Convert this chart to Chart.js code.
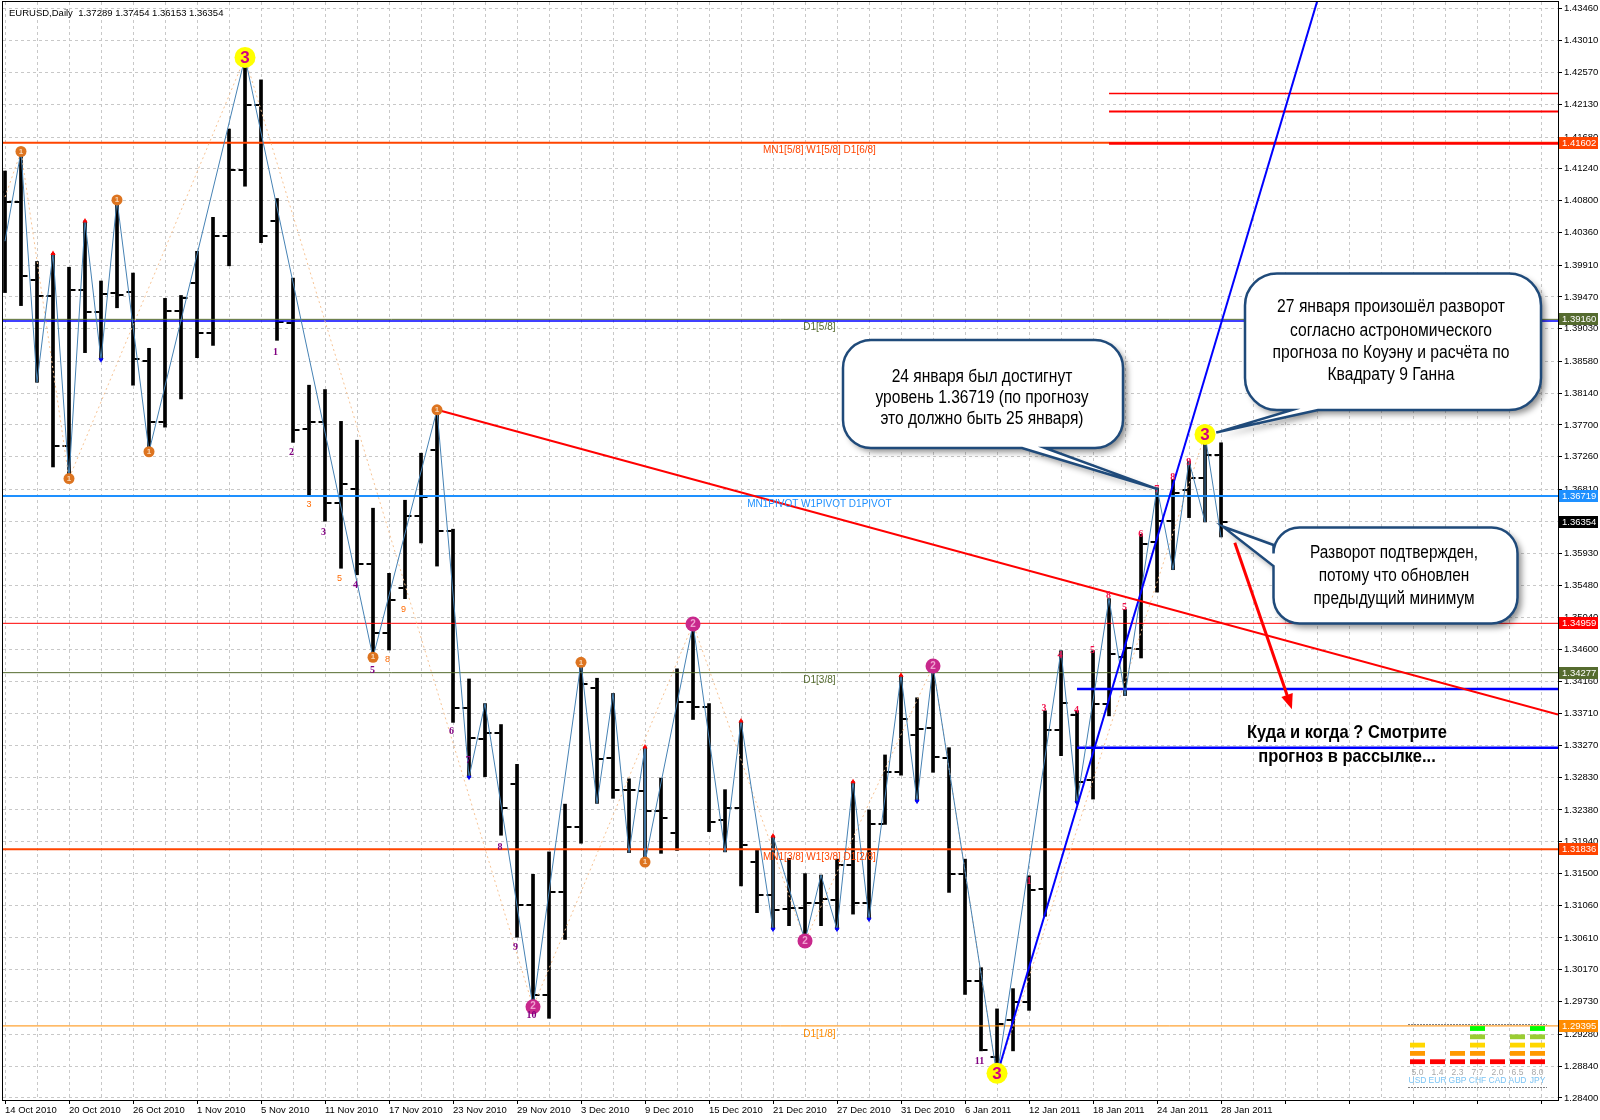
<!DOCTYPE html>
<html>
<head>
<meta charset="utf-8">
<title>EURUSD,Daily</title>
<script src="https://cdn.jsdelivr.net/npm/chart.js@4.4.1/dist/chart.umd.min.js"></script>
<style>
html, body { margin: 0; padding: 0; background: #fff; }
canvas { display: block; }
</style>
</head>
<body>
<canvas id="grafico" width="1600" height="1120"></canvas>
<script>
// dates shown on the time axis, one every 4 bars
var dateLabels = ["14 Oct 2010", "20 Oct 2010", "26 Oct 2010", "1 Nov 2010", "5 Nov 2010", "11 Nov 2010",
    "17 Nov 2010", "23 Nov 2010", "29 Nov 2010", "3 Dec 2010", "9 Dec 2010", "15 Dec 2010", "21 Dec 2010",
    "27 Dec 2010", "31 Dec 2010", "6 Jan 2011", "12 Jan 2011", "18 Jan 2011", "24 Jan 2011", "28 Jan 2011"];

// daily bars, 14 Oct 2010 .. 28 Jan 2011
var opens = [1.4092, 1.4078, 1.3970, 1.3948, 1.3741, 1.3957, 1.3926, 1.3952, 1.3954, 1.3859,
    1.3774, 1.3928, 1.3966, 1.3897, 1.4031, 1.4123, 1.4212, 1.4052, 1.3911, 1.3764,
    1.3774, 1.3662, 1.3682, 1.3578, 1.3483, 1.3545, 1.3644, 1.3735, 1.3623, 1.3379,
    1.3336, 1.3345, 1.3274, 1.3106, 1.2982, 1.3124, 1.3214, 1.3407, 1.3310, 1.3265,
    1.3264, 1.3237, 1.3206, 1.3387, 1.3380, 1.3224, 1.3241, 1.3166, 1.3120, 1.3101,
    1.3103, 1.3109, 1.3114, 1.3162, 1.3110, 1.3218, 1.3291, 1.3342, 1.3351, 1.3310,
    1.3150, 1.3002, 1.2897, 1.2948, 1.2972, 1.3129, 1.3349, 1.3369, 1.3279, 1.3384,
    1.3450, 1.3460, 1.3608, 1.3637, 1.3680, 1.3697, 1.37289];
var highs = [1.4121, 1.4148, 1.3996, 1.4007, 1.3988, 1.4052, 1.3969, 1.4081, 1.3980, 1.3876,
    1.3945, 1.3949, 1.4010, 1.4057, 1.4179, 1.4278, 1.4247, 1.4083, 1.3973, 1.3825,
    1.3819, 1.3775, 1.3749, 1.3655, 1.3565, 1.3666, 1.3731, 1.3791, 1.3626, 1.3419,
    1.3385, 1.3356, 1.3301, 1.3149, 1.3180, 1.3246, 1.3442, 1.3420, 1.3399, 1.3281,
    1.3325, 1.3282, 1.3433, 1.3495, 1.3385, 1.3266, 1.3361, 1.3182, 1.3202, 1.3171,
    1.3150, 1.3148, 1.3170, 1.3277, 1.3238, 1.3314, 1.3424, 1.3393, 1.3437, 1.3324,
    1.3170, 1.3020, 1.2963, 1.2991, 1.3147, 1.3375, 1.3458, 1.3375, 1.3458, 1.3530,
    1.3515, 1.3619, 1.3683, 1.3695, 1.3720, 1.3757, 1.37454];
var lows = [1.3953, 1.3935, 1.3829, 1.3712, 1.3696, 1.3870, 1.3860, 1.3932, 1.3825, 1.3733,
    1.3767, 1.3806, 1.3863, 1.3880, 1.3990, 1.4100, 1.4022, 1.3887, 1.3746, 1.3671,
    1.3637, 1.3572, 1.3563, 1.3449, 1.3459, 1.3530, 1.3607, 1.3575, 1.3359, 1.3283,
    1.3284, 1.3203, 1.3062, 1.2966, 1.2950, 1.3059, 1.3192, 1.3247, 1.3254, 1.3179,
    1.3166, 1.3178, 1.3182, 1.3363, 1.3208, 1.3180, 1.3133, 1.3096, 1.3073, 1.3078,
    1.3057, 1.3078, 1.3073, 1.3094, 1.3087, 1.3218, 1.3286, 1.3250, 1.3290, 1.3124,
    1.2983, 1.2905, 1.2870, 1.2905, 1.2961, 1.3091, 1.3313, 1.3248, 1.3253, 1.3368,
    1.3396, 1.3448, 1.3539, 1.3570, 1.3642, 1.3636, 1.36153];
var closes = [1.4078, 1.3976, 1.3948, 1.3741, 1.3957, 1.3926, 1.3951, 1.3950, 1.3861, 1.3774,
    1.3927, 1.3945, 1.3897, 1.4031, 1.4123, 1.4212, 1.4031, 1.3913, 1.3763, 1.3774,
    1.3662, 1.3688, 1.3578, 1.3483, 1.3528, 1.3644, 1.3670, 1.3623, 1.3379, 1.3337,
    1.3345, 1.3240, 1.3106, 1.2982, 1.3124, 1.3214, 1.3412, 1.3309, 1.3266, 1.3265,
    1.3237, 1.3227, 1.3387, 1.3380, 1.3222, 1.3241, 1.3189, 1.3121, 1.3100, 1.3103,
    1.3109, 1.3115, 1.3162, 1.3110, 1.3218, 1.3290, 1.3363, 1.3350, 1.3311, 1.3150,
    1.3002, 1.2906, 1.2942, 1.2972, 1.3127, 1.3349, 1.3386, 1.3277, 1.3384, 1.3454,
    1.3462, 1.3605, 1.3637, 1.3676, 1.3697, 1.3729, 1.36354];

// price scale labels
var yTickLabels = [1.43460, 1.43010, 1.42570, 1.42130, 1.41680, 1.41240, 1.40800, 1.40360, 1.39910,
    1.39470, 1.39030, 1.38580, 1.38140, 1.37700, 1.37260, 1.36810, 1.36370, 1.35930, 1.35480,
    1.35040, 1.34600, 1.34160, 1.33710, 1.33270, 1.32830, 1.32380, 1.31940, 1.31500, 1.31060,
    1.30610, 1.30170, 1.29730, 1.29280, 1.28840, 1.28400];

// zigzag (blue thin) and big swings (dotted)
var zigIdx = [0, 1, 2, 3, 4, 5, 6, 7, 9, 15, 23, 27, 29, 30, 33, 36, 37, 38, 39, 40, 40, 43, 45, 46, 48, 48,
    50, 51, 52, 53, 54, 56, 57, 58, 62, 66, 67, 69, 70, 72, 73, 74, 75, 75, 76];
var zigVal = [1.4024, 1.4148, 1.3829, 1.4007, 1.3696, 1.4052, 1.3860, 1.4081, 1.3733, 1.4278, 1.3449,
    1.3791, 1.3283, 1.3385, 1.2966, 1.3442, 1.3247, 1.3399, 1.3179, 1.3325, 1.3166, 1.3495, 1.3180,
    1.3361, 1.3073, 1.3202, 1.3057, 1.3148, 1.3073, 1.3277, 1.3087, 1.3424, 1.3250, 1.3437, 1.2870,
    1.3458, 1.3248, 1.3530, 1.3396, 1.3683, 1.3570, 1.3720, 1.3636, 1.3757, 1.3615];
var swingIdx = [0, 1, 4, 15, 33, 43, 50, 58, 62, 75];
var swingVal = [1.4085, 1.4148, 1.3696, 1.4278, 1.2966, 1.3495, 1.3057, 1.3437, 1.2870, 1.3757];

// horizontal levels
var levelVals = [1.41602, 1.39160, 1.39137, 1.36719, 1.34959, 1.34277, 1.31836, 1.29395];
var levelNames = ["MN1[5/8] W1[5/8] D1[6/8]", "D1[5/8]", "", "MN1PIVOT W1PIVOT D1PIVOT", "", "D1[3/8]",
    "MN1[3/8] W1[3/8] D1[2/8]", "D1[1/8]"];
var priceTags = [1.41602, 1.39160, 1.36719, 1.36354, 1.34959, 1.34277, 1.31836, 1.29395];
var redLevels = [1.42280, 1.42031, 1.41590];
var redLevelsFrom = 69;
var blueLevels = [1.34050, 1.33240];
var blueLevelsFrom = 67;

// trend lines [bar, price]
var redTrend = [[27, 1.3791], [97.06, 1.3370]];
var gannLine = [[62, 1.2872], [82, 1.4355]];
var forecastArrow = [[76.86, 1.36071], [80.43, 1.33772]];

// markers
var yellowIdx = [15, 62, 75];
var yellowVal = [1.4278, 1.2874, 1.3757];
var orangeIdx = [1, 4, 7, 9, 23, 27, 36, 40];
var orangeVal = [1.4148, 1.3696, 1.4081, 1.3733, 1.3449, 1.3791, 1.3442, 1.3166];
var magentaIdx = [33, 43, 50, 58];
var magentaVal = [1.2966, 1.3495, 1.3057, 1.3437];
var upIdx = [3, 5, 40, 46, 48, 53, 56];
var downIdx = [6, 29, 48, 52, 54, 57, 67];

// wave counts
var purpleText = ["1", "2", "3", "4", "5", "6", "7", "8", "9", "10", "11"];
var purpleIdx = [16.9, 17.9, 19.9, 21.9, 22.97, 27.9, 28.96, 30.94, 31.9, 32.9, 60.9];
var purpleVal = [1.38709, 1.37327, 1.36211, 1.35479, 1.34308, 1.33463, 1.33068, 1.31868, 1.30486, 1.29542, 1.28908];
var orangeText = ["3", "5", "9", "8"];
var orangeTxtIdx = [19.0, 20.9, 24.9, 23.9];
var orangeTxtVal = [1.36605, 1.35577, 1.35143, 1.34463];
var pinkText = ["1", "3", "4", "4", "5", "8", "5", "6", "7", "8", "9"];
var pinkIdx = [64.0, 64.94, 65.94, 66.96, 67.96, 68.96, 69.96, 70.98, 71.98, 72.98, 73.98];
var pinkVal = [1.31389, 1.33785, 1.34522, 1.33762, 1.34591, 1.35350, 1.35180, 1.36194, 1.36811, 1.36977, 1.37179];

// currency strength block
var currencies = ["USD", "EUR", "GBP", "CHF", "CAD", "AUD", "JPY"];
var strength = [5.0, 1.4, 2.3, 7.7, 2.0, 6.5, 8.0];
var strengthBlocks = [3, 1, 2, 5, 1, 4, 5];

// texts
var header = "EURUSD,Daily  1.37289 1.37454 1.36153 1.36354";
var note1 = ["24 января был достигнут", "уровень 1.36719 (по прогнозу", "это должно быть 25 января)"];
var note2 = ["27 января произошёл разворот", "согласно астрономического", "прогноза по Коуэну и расчёта по", "Квадрату 9 Ганна"];
var note3 = ["Разворот подтвержден,", "потому что обновлен", "предыдущий минимум"];
var note4 = ["Куда и когда ? Смотрите", "прогноз в рассылке..."];
var note1Tip = [72.08, 1.36811];
var note2Tip = [75.7, 1.37595];
var note3Tip = [76.1, 1.36297];

var X_MIN = -0.125, X_MAX = 97.06;
var Y_MIN = 1.28371, Y_MAX = 1.43546;
var FONT = "'Liberation Sans', Arial, sans-serif";

function pts(idx, val) {
    var r = [];
    for (var i = 0; i < idx.length; i++) {
        r.push({x: idx[i], y: val[i]});
    }
    return r;
}

function lineSet(data, color, width, order, dash) {
    return {
        type: "line", data: data, borderColor: color, borderWidth: width,
        pointRadius: 0, fill: false, tension: 0, order: order, borderDash: dash || []
    };
}

var barras = [];
for (var i = 0; i < highs.length; i++) {
    barras.push({x: i, y: [lows[i], highs[i]]});
}

var datasets = [{
    type: "bar", data: barras, backgroundColor: "#000", borderWidth: 0,
    barThickness: 3, order: 20
}];

var levelColors = ["#ff4500", "#556b2f", "#0000ff", "#1e90ff", "#ff0000", "#556b2f", "#ff4500", "#ff8c00"];
var levelWidths = [2, 1, 1.5, 2, 1, 1, 2, 1];
for (var i = 0; i < levelVals.length; i++) {
    datasets.push(lineSet([{x: X_MIN, y: levelVals[i]}, {x: X_MAX, y: levelVals[i]}], levelColors[i], levelWidths[i], 12));
}
var redWidths = [1.5, 2, 2.5];
for (var i = 0; i < redLevels.length; i++) {
    datasets.push(lineSet([{x: redLevelsFrom, y: redLevels[i]}, {x: X_MAX, y: redLevels[i]}], "#ff0000", redWidths[i], 11));
}
for (var i = 0; i < blueLevels.length; i++) {
    datasets.push(lineSet([{x: blueLevelsFrom, y: blueLevels[i]}, {x: X_MAX, y: blueLevels[i]}], "#0000ff", 2.5, 11));
}
datasets.push(lineSet(pts(swingIdx, swingVal), "#f6c394", 1, 9, [2, 3]));
datasets.push(lineSet(pts(zigIdx, zigVal), "#4682b4", 1, 8));
datasets.push(lineSet(redTrend.map(function (p) { return {x: p[0], y: p[1]}; }), "#ff0000", 2, 7));
datasets.push(lineSet(gannLine.map(function (p) { return {x: p[0], y: p[1]}; }), "#0000ff", 2, 7));

function scatterSet(data, color, radius, style, rot) {
    return {
        type: "scatter", data: data, backgroundColor: color, borderColor: color, borderWidth: 0,
        pointRadius: radius, pointStyle: style || "circle", rotation: rot || 0, order: 2
    };
}
datasets.push(scatterSet(pts(upIdx, upIdx.map(function (k) { return highs[k]; })), "#ff0000", 3, "triangle", 0));
datasets.push(scatterSet(pts(downIdx, downIdx.map(function (k) { return lows[k]; })), "#0000ff", 3, "triangle", 180));
datasets.push(scatterSet(pts(orangeIdx, orangeVal), "#dd7420", 5.5));
datasets.push(scatterSet(pts(magentaIdx, magentaVal), "#c8288c", 7.5));
datasets.push(scatterSet(pts(yellowIdx, yellowVal), "#ffff00", 10.5));

// open / close ticks of every bar
var ohlcTicks = {
    id: "ohlcTicks",
    afterDatasetDraw: function (chart, args) {
        if (args.index !== 0) return;
        var ctx = chart.ctx, x = chart.scales.x, y = chart.scales.y, a = chart.chartArea;
        ctx.save();
        ctx.beginPath();
        ctx.rect(a.left, a.top, a.right - a.left, a.bottom - a.top);
        ctx.clip();
        ctx.fillStyle = "#000";
        for (var i = 0; i < opens.length; i++) {
            var px = x.getPixelForValue(i);
            var po = Math.round(y.getPixelForValue(opens[i]));
            var pc = Math.round(y.getPixelForValue(closes[i]));
            ctx.fillRect(px - 6.5, po - 1, 5, 2);
            ctx.fillRect(px + 1.5, pc - 1, 5, 2);
        }
        ctx.restore();
    }
};

function callout(ctx, b, tip, side, a1, a2) {
    var x = b.x, y = b.y, w = b.w, h = b.h, r = b.r;
    ctx.beginPath();
    ctx.moveTo(x + r, y);
    ctx.lineTo(x + w - r, y);
    ctx.arcTo(x + w, y, x + w, y + r, r);
    ctx.lineTo(x + w, y + h - r);
    ctx.arcTo(x + w, y + h, x + w - r, y + h, r);
    if (side === "bottom") {
        ctx.lineTo(a2, y + h);
        ctx.lineTo(tip.x, tip.y);
        ctx.lineTo(a1, y + h);
    }
    ctx.lineTo(x + r, y + h);
    ctx.arcTo(x, y + h, x, y + h - r, r);
    if (side === "left") {
        ctx.lineTo(x, a2);
        ctx.lineTo(tip.x, tip.y);
        ctx.lineTo(x, a1);
    }
    ctx.lineTo(x, y + r);
    ctx.arcTo(x, y, x + r, y, r);
    ctx.closePath();
    ctx.save();
    ctx.shadowColor = "rgba(0,0,0,0.45)";
    ctx.shadowBlur = 6;
    ctx.shadowOffsetX = 4;
    ctx.shadowOffsetY = 4;
    ctx.fillStyle = "#ffffff";
    ctx.fill();
    ctx.restore();
    ctx.lineWidth = 2.5;
    ctx.strokeStyle = "#1f4a7a";
    ctx.stroke();
}

// narrow lettering: normal font squeezed so the widest line has the reference width
function noteText(ctx, lines, cx, ys, size, weight, widest, target) {
    ctx.save();
    ctx.font = weight + " " + size + "px " + FONT;
    var k = target / ctx.measureText(lines[widest]).width;
    ctx.fillStyle = "#000";
    ctx.textAlign = "center";
    ctx.textBaseline = "middle";
    ctx.translate(cx, 0);
    ctx.scale(k, 1);
    for (var i = 0; i < lines.length; i++) {
        ctx.fillText(lines[i], 0, ys[i]);
    }
    ctx.restore();
}

var overlay = {
    id: "overlay",
    afterDatasetsDraw: function (chart) {
        var ctx = chart.ctx, x = chart.scales.x, y = chart.scales.y;
        ctx.save();
        // level captions
        ctx.font = "10px " + FONT;
        ctx.textAlign = "center";
        ctx.textBaseline = "middle";
        for (var i = 0; i < levelVals.length; i++) {
            if (!levelNames[i]) continue;
            ctx.fillStyle = levelColors[i];
            ctx.fillText(levelNames[i], x.getPixelForValue(50.9), y.getPixelForValue(levelVals[i]) + 8);
        }
        // wave counts
        ctx.font = "bold 10px 'Liberation Serif', serif";
        ctx.fillStyle = "#800080";
        for (var i = 0; i < purpleText.length; i++) {
            ctx.fillText(purpleText[i], x.getPixelForValue(purpleIdx[i]), y.getPixelForValue(purpleVal[i]));
        }
        ctx.font = "9px " + FONT;
        ctx.fillStyle = "#ff6a00";
        for (var i = 0; i < orangeText.length; i++) {
            ctx.fillText(orangeText[i], x.getPixelForValue(orangeTxtIdx[i]), y.getPixelForValue(orangeTxtVal[i]));
        }
        ctx.font = "bold 10px 'Liberation Serif', serif";
        ctx.fillStyle = "#f0104a";
        for (var i = 0; i < pinkText.length; i++) {
            ctx.fillText(pinkText[i], x.getPixelForValue(pinkIdx[i]), y.getPixelForValue(pinkVal[i]));
        }
        // digits inside the circles
        ctx.font = "bold 17px " + FONT;
        ctx.fillStyle = "#d4007f";
        for (var i = 0; i < yellowIdx.length; i++) {
            ctx.fillText("3", x.getPixelForValue(yellowIdx[i]), y.getPixelForValue(yellowVal[i]) + 1);
        }
        ctx.font = "bold 8px " + FONT;
        ctx.fillStyle = "#f8d8b8";
        for (var i = 0; i < orangeIdx.length; i++) {
            ctx.fillText("1", x.getPixelForValue(orangeIdx[i]), y.getPixelForValue(orangeVal[i]));
        }
        ctx.font = "bold 10px " + FONT;
        ctx.fillStyle = "#f0a0d0";
        for (var i = 0; i < magentaIdx.length; i++) {
            ctx.fillText("2", x.getPixelForValue(magentaIdx[i]), y.getPixelForValue(magentaVal[i]));
        }
        // forecast arrow
        var ax = x.getPixelForValue(forecastArrow[0][0]), ay = y.getPixelForValue(forecastArrow[0][1]);
        var bx = x.getPixelForValue(forecastArrow[1][0]), by = y.getPixelForValue(forecastArrow[1][1]);
        var ang = Math.atan2(by - ay, bx - ax);
        ctx.strokeStyle = "#ff0000";
        ctx.fillStyle = "#ff0000";
        ctx.lineWidth = 3;
        ctx.beginPath();
        ctx.moveTo(ax, ay);
        ctx.lineTo(bx - 10 * Math.cos(ang), by - 10 * Math.sin(ang));
        ctx.stroke();
        ctx.beginPath();
        ctx.moveTo(bx, by);
        ctx.lineTo(bx - 15 * Math.cos(ang) + 6 * Math.sin(ang), by - 15 * Math.sin(ang) - 6 * Math.cos(ang));
        ctx.lineTo(bx - 15 * Math.cos(ang) - 6 * Math.sin(ang), by - 15 * Math.sin(ang) + 6 * Math.cos(ang));
        ctx.closePath();
        ctx.fill();
        ctx.restore();
    },
    afterDraw: function (chart) {
        var ctx = chart.ctx, x = chart.scales.x, y = chart.scales.y, a = chart.chartArea;
        ctx.save();
        // frame
        ctx.strokeStyle = "#000";
        ctx.lineWidth = 1;
        ctx.strokeRect(Math.round(a.left) - 0.5, Math.round(a.top) - 0.5, Math.round(a.right - a.left) + 1, Math.round(a.bottom - a.top) + 1);

        // header
        ctx.font = "9.5px " + FONT;
        ctx.fillStyle = "#000";
        ctx.textAlign = "left";
        ctx.textBaseline = "middle";
        ctx.fillText(header, 9, 13);

        // price tags on the scale
        var tagColors = ["#ff4500", "#556b2f", "#1e90ff", "#000000", "#ff0000", "#556b2f", "#ff4500", "#ff8c00"];
        ctx.font = "9.5px " + FONT;
        for (var i = 0; i < priceTags.length; i++) {
            var py = Math.round(y.getPixelForValue(priceTags[i]));
            ctx.fillStyle = tagColors[i];
            ctx.fillRect(a.right + 1, py - 6, 39, 12);
            ctx.fillStyle = "#fff";
            ctx.fillText(priceTags[i].toFixed(5), a.right + 4, py + 0.5);
        }

        // currency strength block
        var rowColors = ["#ff0000", "#ff9900", "#ffd700", "#9acd32", "#00ff00"];
        ctx.setLineDash([2, 1]);
        ctx.strokeStyle = "#808080";
        ctx.beginPath();
        ctx.moveTo(1408, 1024.5); ctx.lineTo(1547, 1024.5);
        ctx.moveTo(1408, 1087.5); ctx.lineTo(1547, 1087.5);
        ctx.stroke();
        ctx.setLineDash([]);
        ctx.textAlign = "center";
        for (var c = 0; c < currencies.length; c++) {
            var cx = 1410 + c * 20;
            for (var k = 0; k < strengthBlocks[c]; k++) {
                ctx.fillStyle = rowColors[k];
                ctx.fillRect(cx, 1059.3 - k * 8.3, 15, 4.8);
            }
            ctx.font = "8.5px " + FONT;
            ctx.fillStyle = "#a8a8a8";
            ctx.fillText(strength[c].toFixed(1), cx + 7.5, 1072.5);
            ctx.fillStyle = "#7cc4f4";
            ctx.fillText(currencies[c], cx + 7.5, 1081);
        }

        // callouts
        var t1 = {x: x.getPixelForValue(note1Tip[0]), y: y.getPixelForValue(note1Tip[1])};
        var t2 = {x: x.getPixelForValue(note2Tip[0]), y: y.getPixelForValue(note2Tip[1])};
        var t3 = {x: x.getPixelForValue(note3Tip[0]), y: y.getPixelForValue(note3Tip[1])};
        callout(ctx, {x: 843, y: 340, w: 280, h: 108, r: 28}, t1, "bottom", 1022, 1045);
        callout(ctx, {x: 1245, y: 273.5, w: 296, h: 136.5, r: 32}, t2, "bottom", 1292, 1318);
        callout(ctx, {x: 1273.5, y: 527.5, w: 244, h: 96, r: 26}, t3, "left", 545, 566);

        noteText(ctx, note1, 982, [377, 398, 419], 17.5, "normal", 1, 213);
        noteText(ctx, note2, 1391, [307, 331, 353, 375.5], 17.5, "normal", 2, 237);
        noteText(ctx, note3, 1394, [553, 576.5, 599], 17.5, "normal", 0, 168);
        noteText(ctx, note4, 1347, [733, 757], 19, "bold", 0, 200);
        ctx.restore();
    }
};

var ctx = document.getElementById("grafico");

var grafico = new Chart(ctx, {
    type: "bar",
    data: {datasets: datasets},
    options: {
        responsive: false,
        animation: false,
        events: [],
        layout: {autoPadding: false, padding: {left: 3, top: 2, right: 0, bottom: 0}},
        plugins: {
            legend: {display: false},
            tooltip: {enabled: false}
        },
        scales: {
            x: {
                type: "linear",
                min: X_MIN,
                max: X_MAX,
                offset: false,
                afterBuildTicks: function (s) {
                    var t = [];
                    for (var v = 0; v <= 96; v += 2) t.push({value: v});
                    s.ticks = t;
                },
                afterFit: function (s) {
                    s.height = 20;
                    s.paddingLeft = 0;
                    s.paddingRight = 0;
                },
                ticks: {
                    autoSkip: false,
                    maxRotation: 0,
                    minRotation: 0,
                    align: "start",
                    padding: 1,
                    color: "#000",
                    font: {family: FONT, size: 9.5},
                    callback: function (v) {
                        return (v % 4 === 0 && dateLabels[v / 4]) ? dateLabels[v / 4] : "";
                    }
                },
                grid: {
                    offset: false,
                    color: "#c8c8c8",
                    lineWidth: 1,
                    tickLength: 4,
                    tickBorderDash: [4, 0],
                    tickColor: function (c) {
                        return (c.tick && c.tick.value % 4 === 0) ? "#000" : "rgba(0,0,0,0)";
                    }
                },
                border: {display: false, dash: [3, 3]}
            },
            y: {
                position: "right",
                min: Y_MIN,
                max: Y_MAX,
                afterBuildTicks: function (s) {
                    s.ticks = yTickLabels.map(function (v) { return {value: v}; });
                },
                afterFit: function (s) {
                    s.width = 42;
                    s.paddingTop = 0;
                    s.paddingBottom = 0;
                },
                ticks: {
                    autoSkip: false,
                    padding: 2,
                    color: "#000",
                    font: {family: FONT, size: 9.5},
                    callback: function (v) {
                        return Number(v).toFixed(5);
                    }
                },
                grid: {
                    color: "#c8c8c8",
                    lineWidth: 1,
                    tickLength: 4,
                    tickBorderDash: [4, 0],
                    tickColor: "#000"
                },
                border: {display: false, dash: [3, 3]}
            }
        }
    },
    plugins: [ohlcTicks, overlay]
});
</script>
</body>
</html>
